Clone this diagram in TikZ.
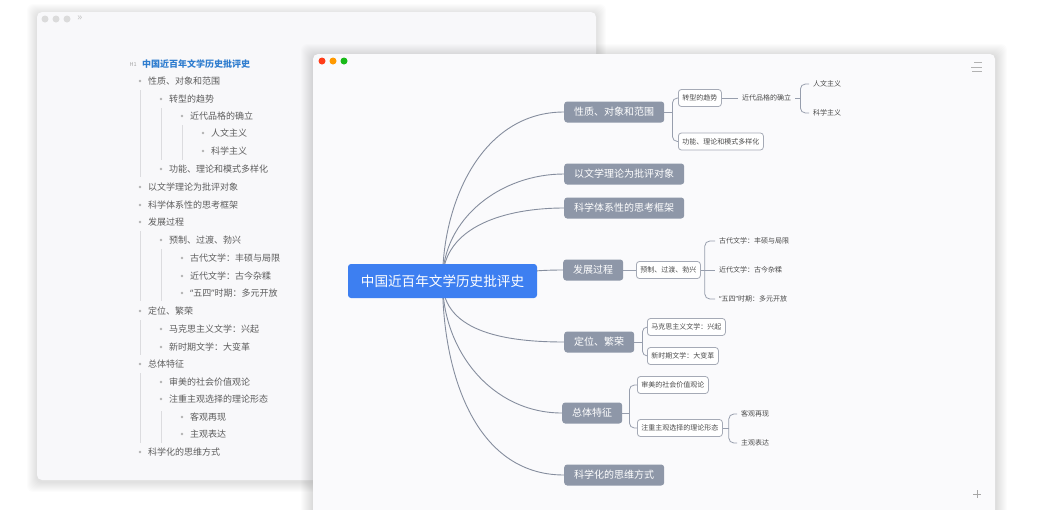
\documentclass[tikz,border=0pt]{standalone}
\usepackage{fontspec}
\setmainfont{Noto Sans CJK SC}
\newfontfamily\latinq{Noto Sans}
\usepackage{xcolor}
\usepackage{tikz}
\usetikzlibrary{positioning, calc}
\definecolor{rootblue}{HTML}{3D7FF1}
\definecolor{topicgrey}{HTML}{8E97A8}
\definecolor{edgegrey}{HTML}{858D9E}
\definecolor{boxline}{HTML}{A5AAB6}
\definecolor{inktext}{HTML}{4B4B4B}
\definecolor{outlineblue}{HTML}{2F7DCF}
\definecolor{guidegrey}{HTML}{DCDCDF}
\definecolor{winleft}{HTML}{F8F8FA}
\definecolor{winright}{HTML}{FAFAFC}
\pgfdeclarelayer{back}
\pgfdeclarelayer{edges}
\pgfsetlayers{back,edges,main}
\newcommand{\wusi}{{\latinq “}五四{\latinq ”}}

\begin{document}
\begin{tikzpicture}[
    x=1pt, y=-1pt,
    root/.style={fill=rootblue, text=white, rounded corners=3pt, minimum width=189pt, minimum height=34pt, font=\fontsize{13.6}{16}\selectfont},
    topic/.style={anchor=west, fill=topicgrey, text=white, rounded corners=3pt, minimum height=21pt, inner xsep=10pt, inner ysep=0pt, font=\fontsize{10}{12}\selectfont},
    subtopic/.style={anchor=west, draw=boxline, line width=0.8pt, fill=white, text=inktext, rounded corners=3pt, minimum height=17pt, inner xsep=4pt, inner ysep=0pt, font=\fontsize{7}{8}\selectfont},
    leaf/.style={anchor=west, text=inktext, inner xsep=4pt, inner ysep=1pt, font=\fontsize{7}{8}\selectfont},
    curve/.style={draw=edgegrey, line width=0.9pt},
    branch/.style={draw=edgegrey!85, line width=0.8pt, rounded corners=5pt},
    outl/.style={anchor=west, inner sep=0pt, text=inktext!90, font=\fontsize{9}{10}\selectfont},
    guide/.style={draw=guidegrey, line width=0.7pt}
]
    \useasboundingbox (0,0) rectangle (1049,509);
    \clip (0,0) rectangle (1049,509);

    % two windows
    \begin{pgfonlayer}{back}
        \foreach \s in {1,...,10}
            \fill[black, opacity=0.012, rounded corners=6pt] (37-\s,14-\s) rectangle (596+\s,482+\s);
        \fill[winleft, rounded corners=5pt] (37,12) rectangle (596,480);
        \foreach \s in {1,...,12}
            \fill[black, opacity=0.012, rounded corners=6pt] (313-\s,56-\s) rectangle (995+\s,540);
        \fill[winright, rounded corners=5pt] (313,54) rectangle (995,540);
    \end{pgfonlayer}

    % title bars
    \foreach \xx in {45,56,67}
        \fill[black!14] (\xx,19) circle (3.5);
    \node[text=black!22, inner sep=0pt, font=\latinq\fontsize{10}{10}\selectfont] (fold) at (80,18.5) {»};
    \fill[red!70!orange!90] (322,61) circle (3.5);
    \fill[orange!80!yellow] (333,61) circle (3.5);
    \fill[green!70!black!90] (344,61) circle (3.5);
    \draw[black!30, line width=1pt] (974,62) -- (982,62) (971,67) -- (982,67) (972,71) -- (982,71);
    \draw[black!35, line width=0.7pt] (973,494) -- (981,494) (977,490) -- (977,498);

    % outline
    \node[anchor=east, inner sep=0pt, text=black!35, font=\fontsize{5.5}{6}\selectfont] (h1) at (137,64) {H1};
    \node[outl, text=outlineblue, font=\bfseries\fontsize{9}{10}\selectfont] (otitle) at (142,64) {中国近百年文学历史批评史};
    \foreach \lv/\yy/\txt [count=\i] in {1/81/性质、对象和范围, 2/99/转型的趋势, 3/116/近代品格的确立, 4/133/人文主义, 4/151/科学主义, 2/169/功能、理论和模式多样化, 1/187/以文学理论为批评对象, 1/205/科学体系性的思考框架, 1/222/发展过程, 2/240/预制、过渡、勃兴, 3/258/古代文学：丰硕与局限, 3/276/近代文学：古今杂糅, 3/293/\wusi 时期：多元开放, 1/311/定位、繁荣, 2/329/马克思主义文学：兴起, 2/347/新时期文学：大变革, 1/364/总体特征, 2/382/审美的社会价值观论, 2/399/注重主观选择的理论形态, 3/417/客观再现, 3/434/主观表达, 1/452/科学化的思维方式}
    {
        \fill[black!30] (119+21*\lv,\yy) circle (1.4);
        \node[outl] (ol\i) at (127+21*\lv,\yy) {\txt};
    }
    \foreach \xx/\ya/\yb in {140/90/177, 140/231/301, 140/320/355, 140/373/443, 161/108/160, 161/249/301, 161/411/443, 182/125/160}
        \draw[guide] (\xx,\ya) -- (\xx,\yb);

    % mind map
    \node[root] (root) at (442.5,281) {中国近百年文学历史批评史};
    \node[topic] (t1) at (564,112) {性质、对象和范围};
    \node[topic] (t2) at (564,174) {以文学理论为批评对象};
    \node[topic] (t3) at (564,208) {科学体系性的思考框架};
    \node[topic] (t4) at (563,270) {发展过程};
    \node[topic] (t5) at (564,342) {定位、繁荣};
    \node[topic] (t6) at (562,413) {总体特征};
    \node[topic] (t7) at (564,475) {科学化的思维方式};

    \node[subtopic] (s1) at (678,98) {转型的趋势};
    \node[subtopic] (s2) at (678,141.5) {功能、理论和模式多样化};
    \node[subtopic] (s3) at (636,270) {预制、过渡、勃兴};
    \node[subtopic] (s4) at (647,327) {马克思主义文学：兴起};
    \node[subtopic] (s5) at (647,356) {新时期文学：大变革};
    \node[subtopic] (s6) at (637,385) {审美的社会价值观论};
    \node[subtopic] (s7) at (637,428) {注重主观选择的理论形态};

    \node[leaf] (l1) at (738,98) {近代品格的确立};
    \node[leaf] (l2) at (809,84) {人文主义};
    \node[leaf] (l3) at (809,113) {科学主义};
    \node[leaf] (l4) at (715,241) {古代文学：丰硕与局限};
    \node[leaf] (l5) at (715,270) {近代文学：古今杂糅};
    \node[leaf] (l6) at (715,299) {\wusi 时期：多元开放};
    \node[leaf] (l7) at (737,414) {客观再现};
    \node[leaf] (l8) at (737,443) {主观表达};

    \begin{pgfonlayer}{edges}
        \draw[curve] (root.center) .. controls +(0,-81) and +(-81,0) .. (t1.west);
        \draw[curve] (root.center) .. controls +(0,-63) and +(-63,0) .. (t2.west);
        \draw[curve] (root.center) .. controls +(0,-56) and +(-56,0) .. (t3.west);
        \draw[curve] (root.center) .. controls +(60,0) and +(-60,0) .. (t4.west);
        \draw[curve] (root.center) .. controls +(0,53) and +(-53,0) .. (t5.west);
        \draw[curve] (root.center) .. controls +(0,70) and +(-70,0) .. (t6.west);
        \draw[curve] (root.center) .. controls +(0,90) and +(-90,0) .. (t7.west);

        \coordinate (b1) at ([xshift=8pt]t1.east);
        \draw[branch] (t1.east) -- (b1);
        \draw[branch] (b1) |- (s1.west);
        \draw[branch] (b1) |- (s2.west);
        \draw[branch] (s1.east) -- (l1.west);
        \coordinate (b2) at ([xshift=5pt]l1.east);
        \draw[branch] (l1.east) -- (b2);
        \draw[branch] (b2) |- (l2.west);
        \draw[branch] (b2) |- (l3.west);

        \draw[branch] (t4.east) -- (s3.west);
        \coordinate (b3) at ([xshift=4pt]s3.east);
        \draw[branch] (s3.east) -- (l5.west);
        \draw[branch] (b3) |- (l4.west);
        \draw[branch] (b3) |- (l6.west);

        \coordinate (b4) at ([xshift=8pt]t5.east);
        \draw[branch] (t5.east) -- (b4);
        \draw[branch] (b4) |- (s4.west);
        \draw[branch] (b4) |- (s5.west);

        \coordinate (b5) at ([xshift=7pt]t6.east);
        \draw[branch] (t6.east) -- (b5);
        \draw[branch] (b5) |- (s6.west);
        \draw[branch] (b5) |- (s7.west);
        \coordinate (b6) at ([xshift=6pt]s7.east);
        \draw[branch] (s7.east) -- (b6);
        \draw[branch] (b6) |- (l7.west);
        \draw[branch] (b6) |- (l8.west);
    \end{pgfonlayer}
\end{tikzpicture}
\end{document}
